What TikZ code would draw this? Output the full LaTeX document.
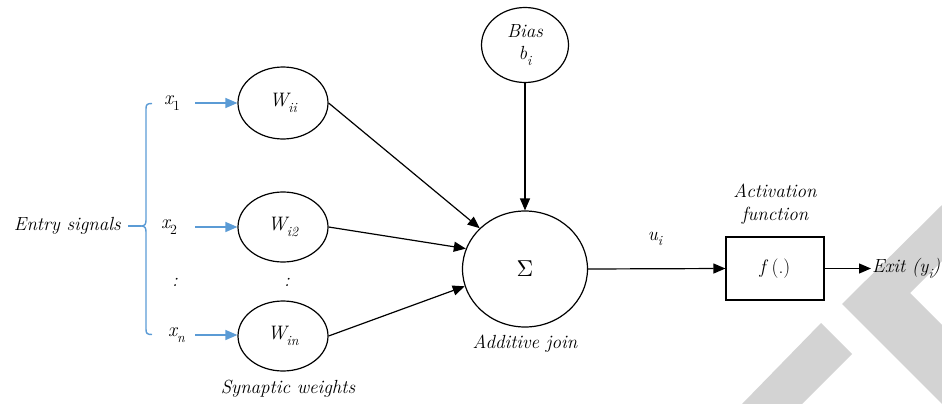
\documentclass[tikz,border=0pt]{standalone}
\usepackage{fontspec}
\usetikzlibrary{shapes.geometric,arrows.meta}
\definecolor{lineblue}{RGB}{91,155,213}
\definecolor{wm}{RGB}{211,211,211}
\newcommand\sbs[1]{\raisebox{-0.28em}{\fontsize{14}{14}\selectfont #1}}
\begin{document}
\begin{tikzpicture}[x=1pt,y=-1pt,
  lbl/.style={font=\fontsize{19}{23}\selectfont\itshape, inner sep=1pt},
  wnode/.style={ellipse, draw, line width=1.2pt, minimum width=90pt, minimum height=72pt, inner sep=0pt, font=\fontsize{19.5}{22}\selectfont\itshape},
  blk/.style={line width=1.2pt, -{Triangle[length=12pt,width=10pt]}},
  blu/.style={draw=lineblue, line width=1.4pt, -{Triangle[length=12pt,width=10pt]}, color=lineblue},
  brc/.style={draw=lineblue, line width=1.4pt}]
\useasboundingbox (0,0) rectangle (942,404);
% watermark
\fill[wm] (942,205) -- (842,304) -- (942,404) -- (942,325) -- (910,293) -- (942,261) -- cycle;
\fill[wm] (821,323) -- (852,354) -- (802,404) -- (742,404) -- cycle;
% entry
\node[lbl, anchor=east] (entry) at (122,226) {Entry signals};
\coordinate (tip) at (141,226);
\draw[brc] (152,103.5) .. controls (147,103.5) and (146,104.5) .. (146,109) -- (146,220) .. controls (146,224) and (145,226) .. (tip) .. controls (145,226) and (146,228) .. (146,232) -- (146,329) .. controls (146,333.5) and (147,334.5) .. (152,334.5);
\draw[brc] (entry.east) ++(6,0) -- (tip);
% inputs
\node[lbl, anchor=west, font=\fontsize{20}{23}\selectfont\itshape] (x1) at (163,103) {x\sbs{\upshape 1}};
\node[lbl, anchor=west, font=\fontsize{20}{23}\selectfont\itshape] (x2) at (160,227) {x\sbs{\upshape 2}};
\node[lbl] (xd) at (175,282) {:};
\node[lbl, anchor=west, font=\fontsize{20}{23}\selectfont\itshape] (xn) at (167,335) {x\sbs{n}};
\node[wnode] (wii) at (283,103) {W\sbs{ii}};
\node[wnode, minimum height=70pt] (wi2) at (283,227) {W\sbs{i2}};
\node[lbl] (wd) at (287,282) {:};
\node[wnode, minimum height=70pt] (win) at (283,336) {W\sbs{in}};
\node[lbl] (syn) at (288,389) {Synaptic weights};
\coordinate (a1) at (195,103);
\coordinate (a2) at (195,227);
\coordinate (a3) at (195,335);
\draw[blu] (a1) -- (wii.west);
\draw[blu] (a2) -- (wi2.west);
\draw[blu] (a3) -- (a3 -| win.west);
% bias and sum
\node[wnode, minimum width=87pt, minimum height=75pt, align=center, font=\fontsize{19}{23}\selectfont\itshape] (bias) at (525,45) {Bias\\[-1pt]b\sbs{i}};
\node[wnode, minimum width=125pt, minimum height=116pt, font=\upshape] (sum) at (525,269) {\scalebox{2.3}{$\Sigma$}};
\node[lbl] (add) at (525,344) {Additive join};
\draw[blk] (bias) -- (sum);
\draw[blk] (wii.east) -- (sum.138);
\draw[blk] (wi2.east) -- (sum.161);
\draw[blk] (win.east) -- (sum.196);
% activation
\node[draw, line width=1.2pt, minimum width=98pt, minimum height=63pt, inner sep=0pt, font=\fontsize{19.5}{22}\selectfont] (act) at (775,268.5) {\textit{f}\,(.)};
\node[lbl, align=center] (actl) at (775,204) {Activation\\function};
\node[lbl] (ui) at (655,239) {u\sbs{i}};
\node[lbl, anchor=west] (exit) at (871,268.5) {Exit (y\sbs{i})};
\draw[blk] (sum.east) -- (act.west);
\draw[blk] (act.east) -- (exit.west);
\end{tikzpicture}
\end{document}
